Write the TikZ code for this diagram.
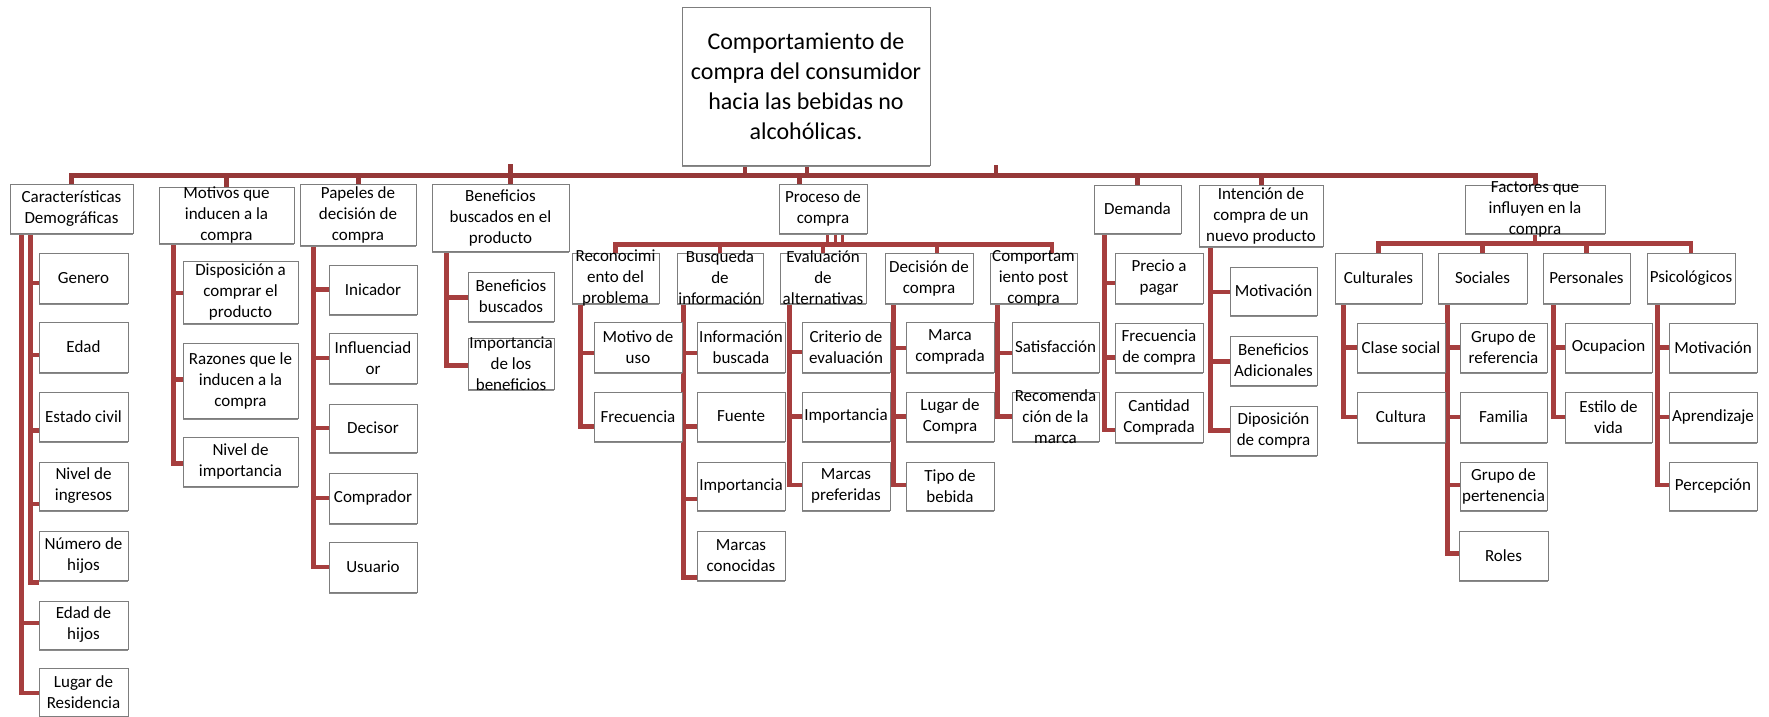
\documentclass[tikz,border=0pt]{standalone}
\usepackage{fontspec}
\setmainfont{Carlito}
\usetikzlibrary{backgrounds,shadows}
\definecolor{conn}{RGB}{166,62,62}
\definecolor{bord}{RGB}{125,125,125}
\newcommand\mybox[6]{%
  \node[box, minimum width={(#4-#2)*1pt}, minimum height={(#5-#3)*1pt}] (#1) at ({(#2+#4)/2},{(#3+#5)/2}) {};
  \node[txt] (#1-t) at (#1.center) {#6};}
\newcommand\mych[4]{\draw[conn] ([xshift=#2pt]#1.south west) |- ([yshift={-(#4)*1pt}]#3.west);}
\begin{document}
\begin{tikzpicture}[x=1pt,y=-1pt,
  box/.style={draw=bord, line width=0.9pt, fill=white, inner sep=0pt,
    drop shadow={shadow xshift=0pt, shadow yshift=-1.8pt, fill=bord!90, opacity=1}},
  txt/.style={align=center, font=\fontsize{17}{21}\selectfont, inner sep=0pt},
  rtxt/.style={align=center, font=\fontsize{24}{30}\selectfont, inner sep=0pt},
  conn/.style={draw=conn, line width=4.5pt},
  mainconn/.style={draw=conn!90!black, line width=5pt},
]
\useasboundingbox (0,0) rectangle (1769,717);

% root
\node[box, minimum width=248pt, minimum height=158pt] (root) at (806,86) {};
\node[rtxt] (root-t) at (root.center) {Comportamiento de\\compra del consumidor\\hacia las bebidas no\\alcohólicas.};

% level 1
\mybox{car}{10}{184}{133}{233}{Características\\Demográficas}
\mybox{mot}{159}{187}{294}{243}{Motivos que\\inducen a la\\compra}
\mybox{pap}{300}{184}{416}{245}{Papeles de\\decisión de\\compra}
\mybox{ben}{432}{184}{569}{251}{Beneficios\\buscados en el\\producto}
\mybox{pro}{779}{184}{867}{233}{Proceso de\\compra}
\mybox{dem}{1094}{185}{1181}{233}{Demanda}
\mybox{int}{1199}{185}{1323}{246}{Intención de\\compra de un\\nuevo producto}
\mybox{fac}{1465}{185}{1605}{233}{Factores que\\influyen en la\\compra}

% Caracteristicas
\mybox{gen}{39}{253}{128}{303}{Genero}
\mybox{eda}{39}{322}{128}{372}{Edad}
\mybox{est}{39}{392}{128}{441}{Estado civil}
\mybox{niv}{39}{462}{128}{510}{Nivel de\\ingresos}
\mybox{num}{39}{531}{128}{580}{Número de\\hijos}
\mybox{edh}{39}{601}{128}{649}{Edad de\\hijos}
\mybox{lug}{39}{668}{128}{716}{Lugar de\\Residencia}

% Motivos
\mybox{dis}{183}{261}{298}{323}{Disposición a\\comprar el\\producto}
\mybox{raz}{183}{343}{298}{418}{Razones que le\\inducen a la\\compra}
\mybox{nim}{183}{437}{298}{486}{Nivel de\\importancia}

% Papeles
\mybox{ini}{329}{265}{417}{314}{Inicador}
\mybox{inf}{329}{333}{417}{383}{Influenciad\\or}
\mybox{dcs}{329}{404}{417}{452}{Decisor}
\mybox{cmp}{329}{473}{417}{523}{Comprador}
\mybox{usu}{329}{542}{417}{592}{Usuario}

% Beneficios
\mybox{bbu}{468}{272}{554}{321}{Beneficios\\buscados}
\mybox{imb}{468}{338}{554}{389}{Importancia\\de los\\beneficios}

% Proceso
\mybox{rec}{572}{253}{659}{303}{Reconocimi\\ento del\\problema}
\mybox{bus}{677}{253}{763}{303}{Busqueda\\de\\información}
\mybox{eva}{780}{253}{866}{303}{Evaluación\\de\\alternativas}
\mybox{dec}{885}{253}{973}{303}{Decisión de\\compra}
\mybox{com}{990}{253}{1077}{303}{Comportam\\iento post\\compra}

\mybox{mdu}{594}{322}{682}{372}{Motivo de\\uso}
\mybox{fre}{594}{392}{682}{441}{Frecuencia}
\mybox{ibu}{697}{322}{785}{372}{Información\\buscada}
\mybox{fue}{697}{392}{785}{441}{Fuente}
\mybox{impa}{697}{462}{785}{510}{Importancia}
\mybox{mco}{697}{531}{785}{580}{Marcas\\conocidas}
\mybox{cri}{802}{322}{890}{372}{Criterio de\\evaluación}
\mybox{impb}{802}{392}{890}{441}{Importancia}
\mybox{mpr}{802}{462}{890}{510}{Marcas\\preferidas}
\mybox{mcm}{906}{322}{994}{372}{Marca\\comprada}
\mybox{ldc}{906}{392}{994}{441}{Lugar de\\Compra}
\mybox{tdb}{906}{462}{994}{510}{Tipo de\\bebida}
\mybox{sat}{1012}{322}{1099}{372}{Satisfacción}
\mybox{rco}{1012}{392}{1099}{441}{Recomenda\\ción de la\\marca}

% Demanda
\mybox{ppa}{1115}{253}{1203}{303}{Precio a\\pagar}
\mybox{fdc}{1115}{323}{1203}{372}{Frecuencia\\de compra}
\mybox{cco}{1115}{392}{1203}{442}{Cantidad\\Comprada}

% Intencion
\mybox{mta}{1230}{267}{1317}{315}{Motivación}
\mybox{bad}{1230}{336}{1317}{385}{Beneficios\\Adicionales}
\mybox{ddc}{1230}{406}{1317}{455}{Diposición\\de compra}

% Factores
\mybox{cul}{1335}{253}{1422}{303}{Culturales}
\mybox{soc}{1438}{253}{1527}{303}{Sociales}
\mybox{per}{1543}{253}{1630}{303}{Personales}
\mybox{psi}{1647}{253}{1735}{303}{Psicológicos}

\mybox{cls}{1357}{323}{1445}{372}{Clase social}
\mybox{clt}{1357}{392}{1445}{442}{Cultura}
\mybox{gre}{1460}{323}{1547}{372}{Grupo de\\referencia}
\mybox{fam}{1460}{392}{1547}{442}{Familia}
\mybox{gpe}{1460}{462}{1547}{510}{Grupo de\\pertenencia}
\mybox{rol}{1459}{531}{1548}{580}{Roles}
\mybox{ocu}{1565}{323}{1652}{372}{Ocupacion}
\mybox{edv}{1565}{392}{1652}{442}{Estilo de\\vida}
\mybox{mtb}{1669}{323}{1757}{372}{Motivación}
\mybox{apr}{1669}{392}{1757}{442}{Aprendizaje}
\mybox{pcp}{1669}{462}{1757}{510}{Percepción}

\begin{pgfonlayer}{background}
\coordinate (bar) at (0,175.5);
\coordinate (pbar) at (0,244.5);
\coordinate (fbar) at (0,243.5);
% main bar
\draw[mainconn] (car.north) |- (bar -| fac.north) -- (fac.north);
\foreach \n in {mot,pap,dem,int}{\draw[mainconn] (\n.north) -- (\n.north |- bar);}
\draw[mainconn] ([xshift=10pt]ben.north) -- ([xshift=10pt,yshift=12pt]ben.north |- bar);
\draw[mainconn] ([xshift=-24pt]pro.north) -- ([xshift=-24pt]pro.north |- bar);
\draw[mainconn, line width=3.5pt] ([xshift=-61pt]root.south) -- ([xshift=-61pt]root.south |- bar);
\draw[mainconn, line width=4pt] ([xshift=1pt]root.south) -- ([xshift=1pt]root.south |- bar);
\draw[mainconn, line width=3.5pt] ([xshift=190pt]root.south) -- ([xshift=190pt]root.south |- bar);

% Caracteristicas
\mych{car}{21}{gen}{5}
\mych{car}{21}{eda}{8}
\mych{car}{21}{est}{14}
\mych{car}{21}{niv}{18}
\mych{car}{21}{num}{27}
\mych{car}{12}{edh}{-2}
\mych{car}{12}{lug}{1}
% Motivos
\mych{mot}{15}{dis}{1}
\mych{mot}{15}{raz}{-1}
\mych{mot}{15}{nim}{2}
% Papeles
\foreach \c in {ini,inf,dcs,cmp,usu}{\mych{pap}{14}{\c}{0}}
% Beneficios
\mych{ben}{15}{bbu}{1}
\mych{ben}{15}{imb}{2}

% Proceso sub bar
\draw[conn] (rec.north) |- ([xshift=18.5pt]com.north |- pbar) -- ([xshift=18.5pt]com.north);
\draw[conn] (bus.north) -- (bus.north |- pbar);
\draw[conn] (eva.north) -- (eva.north |- pbar);
\draw[conn] ([xshift=8pt]dec.north) -- ([xshift=8pt]dec.north |- pbar);
\foreach \s in {4,12,19}{\draw[conn, line width=3pt] ([xshift=\s pt]pro.south) -- ([xshift=\s pt]pro.south |- pbar);}

\mych{rec}{9}{mdu}{6}
\mych{rec}{9}{fre}{10}
\mych{bus}{7}{ibu}{6}
\mych{bus}{7}{fue}{10}
\mych{bus}{7}{impa}{13}
\mych{bus}{7}{mco}{22}
\mych{eva}{10}{cri}{5}
\mych{eva}{10}{impb}{0}
\mych{eva}{10}{mpr}{-1}
\mych{dec}{9}{mcm}{1}
\mych{dec}{9}{ldc}{0}
\mych{dec}{9}{tdb}{-1}
\mych{com}{8}{sat}{6}
\mych{com}{8}{rco}{0}

% Demanda
\mych{dem}{11}{ppa}{5}
\mych{dem}{11}{fdc}{10}
\mych{dem}{11}{cco}{13}
% Intencion
\mych{int}{12}{mta}{1}
\mych{int}{12}{bad}{1}
\mych{int}{12}{ddc}{0}

% Factores sub bar
\draw[conn] (cul.north) |- (psi.north |- fbar) -- (psi.north);
\draw[conn] (soc.north) -- (soc.north |- fbar);
\draw[conn] (per.north) -- (per.north |- fbar);
\draw[conn] (fac.south) -- (fac.south |- fbar);

\mych{cul}{9}{cls}{0}
\mych{cul}{9}{clt}{0}
\mych{soc}{10}{gre}{0}
\mych{soc}{10}{fam}{0}
\mych{soc}{10}{gpe}{-1}
\mych{soc}{10}{rol}{-2}
\mych{per}{11}{ocu}{0}
\mych{per}{11}{edv}{0}
\mych{psi}{11}{mtb}{0}
\mych{psi}{11}{apr}{0}
\mych{psi}{11}{pcp}{-1}
\end{pgfonlayer}
\end{tikzpicture}
\end{document}
